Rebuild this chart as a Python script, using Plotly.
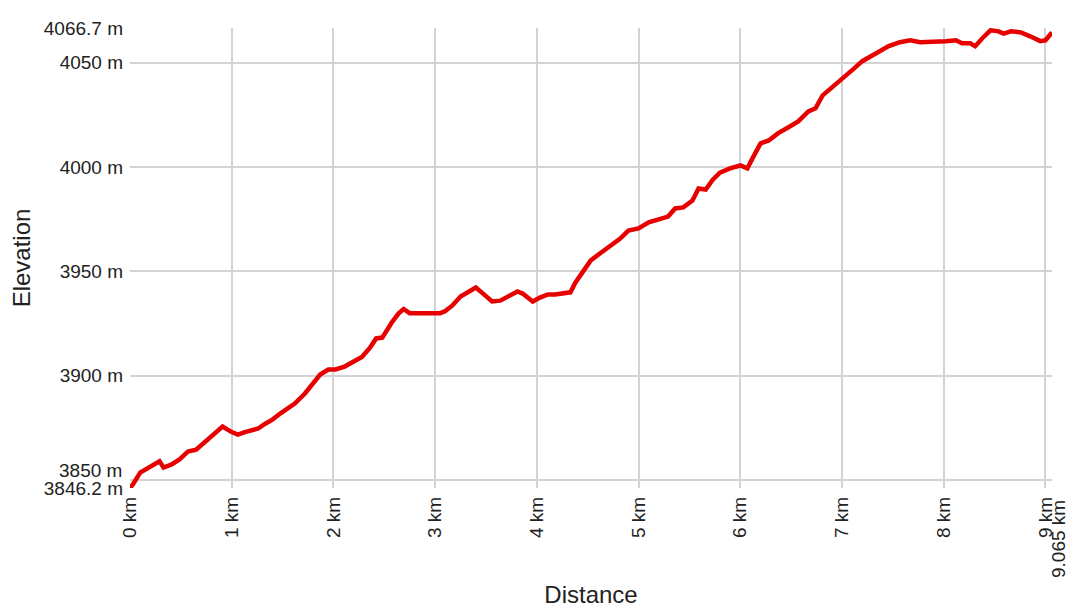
import plotly.graph_objects as go

distance_km = [0.0, 0.03, 0.10, 0.18, 0.25, 0.29, 0.33, 0.41, 0.49, 0.57, 0.65, 0.74, 0.82, 0.88, 0.91,
               1.00, 1.06, 1.13, 1.20, 1.26, 1.33, 1.40, 1.48, 1.55, 1.62, 1.72, 1.80, 1.87, 1.95,
               2.02, 2.11, 2.21, 2.28, 2.36, 2.42, 2.48, 2.52, 2.58, 2.64, 2.69, 2.75, 2.85, 3.05,
               3.10, 3.17, 3.25, 3.33, 3.40, 3.48, 3.56, 3.64, 3.72, 3.81, 3.86, 3.96, 4.03, 4.11,
               4.18, 4.28, 4.33, 4.38, 4.45, 4.53, 4.62, 4.72, 4.82, 4.90, 5.00, 5.10, 5.19, 5.29,
               5.36, 5.44, 5.53, 5.59, 5.66, 5.73, 5.80, 5.90, 6.00, 6.07, 6.12, 6.20, 6.28, 6.37,
               6.47, 6.57, 6.67, 6.74, 6.81, 6.89, 7.00, 7.10, 7.20, 7.33, 7.46, 7.57, 7.67, 7.77,
               7.92, 8.02, 8.12, 8.18, 8.26, 8.31, 8.38, 8.46, 8.54, 8.59, 8.66, 8.76, 8.85, 8.95,
               9.00, 9.065]
elevation_m = [3846.2, 3848.0, 3853.6, 3856.0, 3858.0, 3859.0, 3856.0, 3857.5, 3860.0, 3863.7, 3864.6,
               3868.5, 3872.0, 3875.0, 3875.7,
               3873.0, 3871.8, 3873.0, 3873.8, 3874.7, 3877.0, 3879.0, 3882.0, 3884.3, 3886.7, 3891.5,
               3896.0, 3900.6, 3903.0,
               3903.0, 3904.4, 3906.8, 3909.0, 3913.5, 3917.9, 3918.3, 3921.7, 3926.0, 3929.8, 3932.0,
               3930.0, 3930.0, 3930.0,
               3931.0, 3933.7, 3938.0, 3940.0, 3942.3, 3939.0, 3935.6, 3936.0, 3938.0, 3940.4, 3939.4,
               3935.6, 3937.5, 3939.0,
               3939.0, 3940.0, 3940.0, 3944.7, 3949.5, 3955.3, 3958.6, 3962.4, 3965.8, 3969.6, 3970.6,
               3973.5, 3974.9, 3976.3,
               3980.2, 3980.7, 3984.0, 3989.8, 3989.3, 3994.0, 3997.4, 3999.4, 4000.8, 3999.4, 4004.2,
               4011.4, 4012.8, 4016.2,
               4019.0, 4021.9, 4026.7, 4028.2, 4034.4, 4037.7, 4041.7, 4046.5, 4050.8, 4054.6, 4058.0,
               4059.9, 4060.8, 4059.9,
               4059.9, 4060.4, 4060.8, 4059.4, 4059.4, 4058.0, 4061.8, 4065.6, 4065.1, 4064.0, 4065.1,
               4064.6, 4062.7, 4060.4,
               4060.8, 4064.6]

x_tick_vals = [0, 1, 2, 3, 4, 5, 6, 7, 8, 9]
x_tick_text = ["0 km", "1 km", "2 km", "3 km", "4 km", "5 km", "6 km", "7 km", "8 km", "9 km"]
x_max = 9.065
x_max_label = "9.065 km"
y_tick_vals = [3846.2, 3850, 3900, 3950, 4000, 4050, 4066.7]
y_tick_text = ["3846.2 m", "", "3900 m", "3950 m", "4000 m", "4050 m", "4066.7 m"]
y_min, y_max = 3846.2, 4066.7
label_3850 = "3850 m"

font_family = "Liberation Sans, Arial, sans-serif"
grid_color = "#d3d3d3"
tick_size = 19

fig = go.Figure()
fig.add_trace(go.Scatter(x=distance_km, y=elevation_m, mode="lines",
                         line=dict(color="#e60000", width=4.5), hoverinfo="skip"))

fig.update_layout(
    width=1067, height=600,
    margin=dict(l=122, r=23, t=20, b=120, autoexpand=False),
    plot_bgcolor="white", paper_bgcolor="white",
    showlegend=False,
    font=dict(family=font_family, color="#222", size=tick_size),
    xaxis=dict(range=[0, x_max], tickmode="array",
               tickvals=x_tick_vals + [x_max], ticktext=x_tick_text + [""],
               tickangle=-90, showgrid=True, gridcolor=grid_color, gridwidth=1.5,
               zeroline=False, showline=False, ticks="", ticklabelstandoff=4,
               tickfont=dict(size=tick_size),
               title=dict(text="Distance", font=dict(size=24), standoff=52)),
    yaxis=dict(range=[y_min, y_max], tickmode="array",
               tickvals=y_tick_vals, ticktext=y_tick_text,
               showgrid=True, gridcolor=grid_color, gridwidth=1.5,
               zeroline=False, showline=False, ticks="", ticklabelstandoff=6,
               tickfont=dict(size=tick_size),
               title=dict(text="Elevation", font=dict(size=24), standoff=14)),
    annotations=[
        dict(x=x_max, y=0, xref="x", yref="paper", text=x_max_label, textangle=-90,
             showarrow=False, xanchor="center", yanchor="top", xshift=6, yshift=-10,
             font=dict(size=tick_size)),
        dict(x=0, y=3850, xref="paper", yref="y", text=label_3850, showarrow=False,
             xanchor="right", yanchor="middle", xshift=-6, yshift=10, font=dict(size=tick_size)),
    ],
)

fig.write_html("out.html")
